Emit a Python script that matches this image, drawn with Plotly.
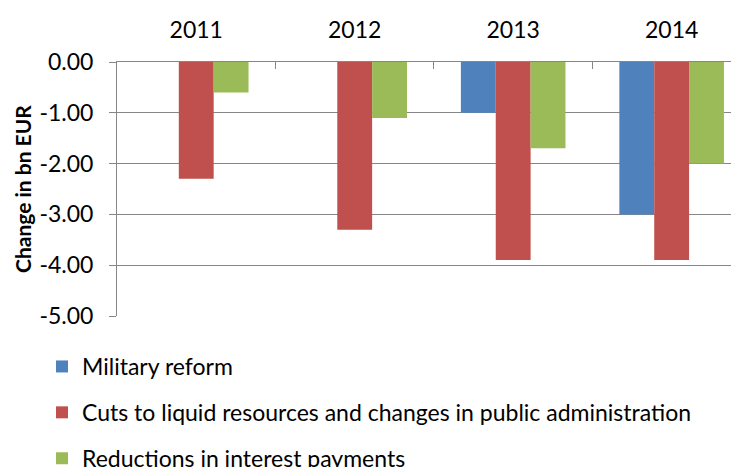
import plotly.graph_objects as go

years = ["2011", "2012", "2013", "2014"]
military_reform = [0.0, 0.0, -1.0, -3.0]
cuts_admin = [-2.3, -3.3, -3.9, -3.9]
interest_payments = [-0.6, -1.1, -1.7, -2.0]
series_names = [
    "Military reform",
    "Cuts to liquid resources and changes in public administration",
    "Reductions in interest payments",
]
colors = ["#4F81BD", "#C0504D", "#9BBB59"]
y_ticks = [0, -1, -2, -3, -4, -5]
y_tick_labels = ["0.00", "-1.00", "-2.00", "-3.00", "-4.00", "-5.00"]
y_title = "Change in bn EUR"

FONT = "Lato"
W, H = 731, 459  # page body has an 8px margin
fig = go.Figure()
for i, (name, vals) in enumerate(zip(series_names, [military_reform, cuts_admin, interest_payments])):
    fig.add_trace(go.Bar(x=years, y=vals, name=name, marker_color=colors[i],
                         marker_line_width=0, legendgroup=f"g{i}"))

fig.add_annotation(
    text=f"<b>{y_title}</b>", xref="paper", yref="paper",
    x=(22 - 117) / 622, y=0.5, xanchor="center", yanchor="middle",
    textangle=-90, showarrow=False, font=dict(family=FONT, size=21, color="black"),
)

fig.update_layout(
    width=W, height=H,
    margin=dict(l=109, r=0, t=54, b=151, autoexpand=False),
    paper_bgcolor="white", plot_bgcolor="white",
    font=dict(family=FONT, size=23, color="black"),
    barmode="group", bargap=0.34, bargroupgap=0,
    showlegend=True,
    legend=dict(
        xref="container", yref="container",
        x=34 / W, y=1 - 337 / H, xanchor="left", yanchor="top",
        traceorder="grouped", tracegroupgap=13,
        font=dict(family=FONT, size=23),
        bgcolor="rgba(0,0,0,0)",
    ),
    xaxis=dict(
        side="top", type="category", range=[-0.5, 3.425],
        showline=True, linecolor="#868686", linewidth=1,
        ticks="inside", tickson="boundaries", ticklen=7, tickcolor="#868686",
        showgrid=False, ticklabelstandoff=14, automargin=False,
        tickfont=dict(family=FONT, size=23),
    ),
    yaxis=dict(
        range=[-5, 0], tickvals=y_ticks, ticktext=y_tick_labels,
        showline=True, linecolor="#868686", linewidth=1,
        ticks="outside", ticklen=7, tickcolor="#868686",
        showgrid=True, gridcolor="#868686", gridwidth=1, zeroline=False,
        ticklabelstandoff=11, automargin=False,
        tickfont=dict(family=FONT, size=23),
    ),
)

fig.write_html("out.html")
